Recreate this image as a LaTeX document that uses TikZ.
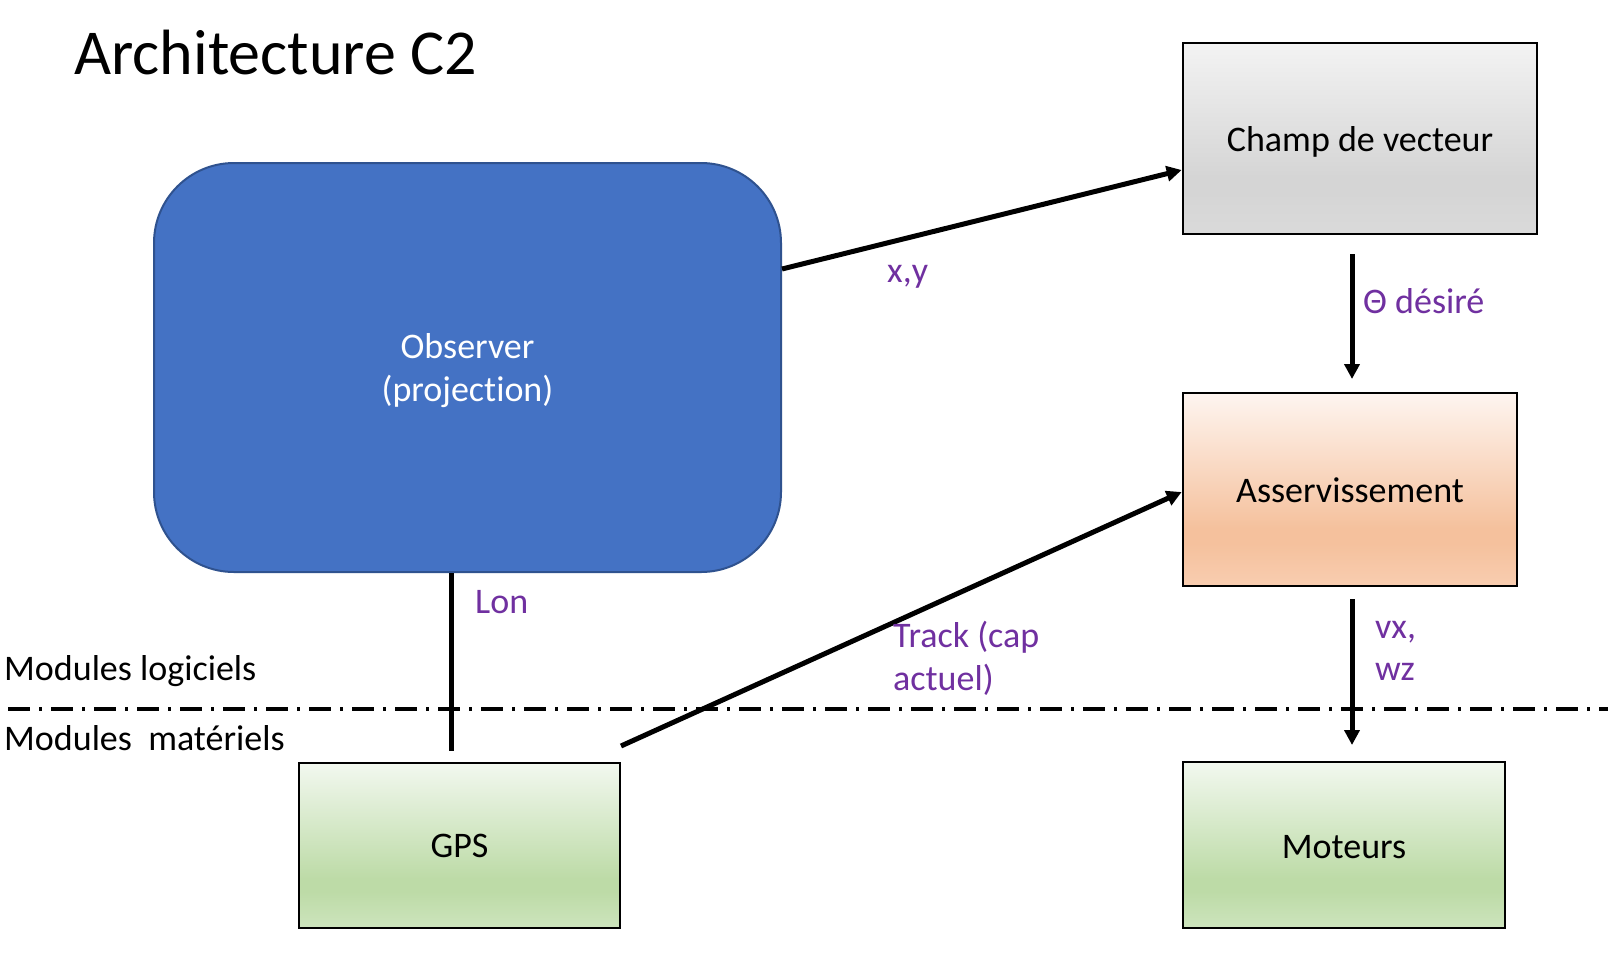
\documentclass[tikz,border=0pt]{standalone}
\usepackage{fontspec}
\setmainfont[Ligatures=NoCommon]{Carlito}
\usetikzlibrary{arrows.meta}
\definecolor{obsfill}{HTML}{4472C4}
\definecolor{obsline}{HTML}{2F528F}
\definecolor{lblpurple}{HTML}{7030A0}
\definecolor{grT}{HTML}{F3F3F3}
\definecolor{grM}{HTML}{D5D5D5}
\definecolor{grB}{HTML}{DADADA}
\definecolor{orT}{HTML}{FEF5F0}
\definecolor{orM}{HTML}{F5C19D}
\definecolor{orB}{HTML}{F8CDB0}
\definecolor{gnT}{HTML}{F2F8EF}
\definecolor{gnM}{HTML}{BDDBA7}
\definecolor{gnB}{HTML}{CDE4BD}
\pgfdeclareverticalshading{greysh}{100bp}{color(0bp)=(grB); color(25bp)=(grB); color(36bp)=(grM); color(40bp)=(grM); color(75bp)=(grT); color(100bp)=(grT)}
\pgfdeclareverticalshading{orangesh}{100bp}{color(0bp)=(orB); color(25bp)=(orB); color(36bp)=(orM); color(40bp)=(orM); color(75bp)=(orT); color(100bp)=(orT)}
\pgfdeclareverticalshading{greensh}{100bp}{color(0bp)=(gnB); color(25bp)=(gnB); color(36bp)=(gnM); color(40bp)=(gnM); color(75bp)=(gnT); color(100bp)=(gnT)}
\newcommand{\boxtext}[2][-3pt]{\raisebox{#1}[\height][\depth]{#2}}
\tikzset{
  txt/.style={font=\fontsize{36}{43}\selectfont},
  box/.style={draw=black, line width=2.6pt, inner sep=0pt, txt},
  lbl/.style={anchor=base west, inner sep=0pt, text=lblpurple, txt},
  side/.style={anchor=base west, inner sep=0pt, txt},
  conn/.style={line width=5pt},
  arr/.style={line width=5pt, -{Triangle[length=15pt,width=15pt]}},
  sep/.style={line width=4.5pt, dash pattern=on 22pt off 9pt on 3pt off 9pt}
}
\begin{document}
\begin{tikzpicture}[x=1pt,y=-1pt]
\useasboundingbox (0,0) rectangle (1608,954);
\fill[white] (0,0) rectangle (1608,954);

\node[anchor=base west, inner sep=0pt, font=\fontsize{64}{70}\selectfont] (title) at (74,74) {Architecture C2};

\node[draw=obsline, line width=2pt, fill=obsfill, rounded corners=80pt, minimum width=627pt, minimum height=409pt, text=white, txt] (obs) at (467.5,367.5) {\boxtext[-4pt]{\begin{tabular}{@{}c@{}}Observer\\(projection)\end{tabular}}};
\node[box, shading=greysh, minimum width=354pt, minimum height=191pt] (champ) at (1360,138.5) {\boxtext{Champ de vecteur}};
\node[box, shading=orangesh, minimum width=334pt, minimum height=193pt] (asserv) at (1350,489.5) {\boxtext[-1pt]{Asservissement}};
\node[box, shading=greensh, minimum width=321pt, minimum height=165pt] (gps) at (459.5,845.5) {\boxtext[0pt]{GPS}};
\node[box, shading=greensh, minimum width=322pt, minimum height=166pt] (mot) at (1344,845) {\boxtext[-2pt]{Moteurs}};

\coordinate (sepL) at (8,709);
\coordinate (sepR) at (1608,709);
\draw[sep] (sepL) -- (sepR);

\node[side] (logi) at (4,680) {Modules logiciels};
\node[side] (mate) at (4,750) {Modules\ \ matériels};

\draw[arr] (obs.east |- 0,269) -- (champ.west |- 0,170);
\node[lbl] (lxy) at (887,282) {x,y};

\coordinate (thA) at (1352,254);
\coordinate (thB) at (1352,379);
\draw[arr] (thA) -- (thB);
\node[lbl] (lth) at (1363,313) {Θ désiré};

\coordinate (lonB) at (451,751);
\draw[conn] (obs.south -| lonB) -- (lonB);
\node[lbl] (llon) at (475,613) {Lon};

\coordinate (trA) at (621,746);
\draw[arr] (trA) -- (asserv.west |- 0,492);
\node[lbl] (ltr1) at (893,647) {Track (cap};
\node[lbl] (ltr2) at (893,690) {actuel)};

\coordinate (vxA) at (1352,599);
\coordinate (vxB) at (1352,745);
\draw[arr] (vxA) -- (vxB);
\node[lbl] (lvx) at (1375,638) {vx,};
\node[lbl] (lwz) at (1375,680) {wz};
\end{tikzpicture}
\end{document}
